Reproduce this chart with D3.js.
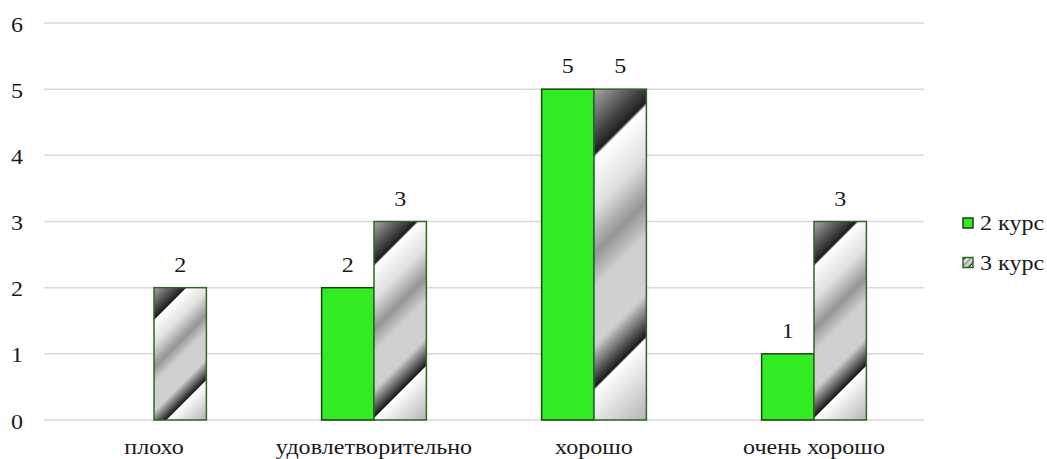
<!DOCTYPE html>
<html><head><meta charset="utf-8">
<script src="https://cdn.jsdelivr.net/npm/d3@7"></script>
<style>body{margin:0;background:#fff}svg{display:block}</style>
</head><body>
<svg id="c" width="1047" height="459"></svg>
<script>
const categories = ["плохо","удовлетворительно","хорошо","очень хорошо"];
const seriesNames = ["2 курс","3 курс"];
const course2 = [0,2,5,1];
const course3 = [2,3,5,3];
const yTicks = [0,1,2,3,4,5,6];

const FONT = "'Liberation Serif'";
const FS = 21.5, SX = 1.12;
const svg = d3.select("#c");
const W=1047,H=459;
const m={left:44,right:123,top:23,bottom:39};
const y = d3.scaleLinear().domain([0,6]).range([H-m.bottom,m.top]);
const x0 = d3.scaleBand().domain(categories).range([m.left,W-m.right]).padding(0);
const bw = x0.bandwidth();
const groupW = bw/2.1;
const x1 = d3.scaleBand().domain(seriesNames).range([(bw-groupW)/2,(bw+groupW)/2]).padding(0);

function label(g,tx,ty,str,anchor){
  return g.append("text").attr("transform",`translate(${tx},${ty}) scale(${SX},1)`)
    .attr("text-anchor",anchor).attr("font-family",FONT).attr("font-size",FS)
    .attr("fill","#1a1a1a").text(str);
}

const defs = svg.append("defs");
const stops = [[0,"#a8a8a8"],[0.17,"#1e1e1e"],[0.18,"#ffffff"],[0.31,"#e0e0e0"],[0.43,"#959595"],[0.52,"#d0d0d0"],[0.67,"#d0d0d0"],[0.78,"#1a1a1a"],[0.787,"#ffffff"],[1,"#b4b4b4"]];
function makeGrad(id,xa,ya,w,h){
  const g = defs.append("linearGradient").attr("id",id).attr("gradientUnits","userSpaceOnUse")
    .attr("x1",xa).attr("y1",ya).attr("x2",xa+(w+h)/2).attr("y2",ya+(w+h)/2);
  stops.forEach(s=>g.append("stop").attr("offset",s[0]).attr("stop-color",s[1]));
  return "url(#"+id+")";
}

svg.append("g").selectAll("line").data(yTicks).join("line")
  .attr("x1",m.left).attr("x2",W-m.right)
  .attr("y1",d=>y(d)).attr("y2",d=>y(d))
  .attr("stroke","#d9d9d9").attr("stroke-width",1.5);

const gt = svg.append("g");
yTicks.forEach(t=>label(gt,23,y(t)+8.5,t,"end"));

const gc = svg.append("g");
categories.forEach(c=>label(gc,x0(c)+bw/2,453.5,c,"middle"));

const bars = [];
categories.forEach((c,i)=>[course2[i],course3[i]].forEach((v,j)=>bars.push({cat:c,s:seriesNames[j],j,v})));

const gb = svg.append("g"), gl = svg.append("g");
bars.forEach((b,k)=>{
  if(b.v<=0) return;
  const xa = x0(b.cat)+x1(b.s), w=x1.bandwidth(), ya=y(b.v), h=y(0)-y(b.v);
  const fill = b.j===0 ? "#31ec22" : makeGrad("g"+k,xa,ya,w,h);
  gb.append("rect").attr("x",xa).attr("y",ya).attr("width",w).attr("height",h)
    .attr("fill",fill).attr("stroke",b.j===0?"#1f3f14":"#2b6a1c").attr("stroke-width",1.5);
  label(gl,xa+w/2,ya-16,b.v,"middle");
});

const lg = svg.append("g");
seriesNames.forEach((s,j)=>{
  const cy = 223 + j*39.5;
  const fill = j===0 ? "#31ec22" : makeGrad("lg"+j,963,cy-5,10,10);
  lg.append("rect").attr("x",963).attr("y",cy-5).attr("width",10).attr("height",10)
    .attr("fill",fill).attr("stroke",j===0?"#1f3f14":"#2b6a1c").attr("stroke-width",1.5);
  label(lg,980,cy+7,s,"start");
});
</script>
</body></html>
